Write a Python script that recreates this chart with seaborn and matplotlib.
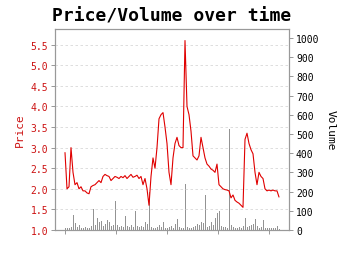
import matplotlib
matplotlib.use("Agg")
import matplotlib.pyplot as plt
import seaborn as sns
import pandas as pd
import numpy as np

# ---- data ----
price = [2.88, 2.0, 2.05, 3.0, 2.4, 2.1, 2.15, 2.0, 2.05, 1.95,
         1.95, 1.9, 1.88, 2.05, 2.08, 2.1, 2.15, 2.2, 2.15, 2.3,
         2.35, 2.32, 2.3, 2.2, 2.25, 2.3, 2.28, 2.25, 2.3, 2.27,
         2.32, 2.25, 2.3, 2.35, 2.28, 2.3, 2.33, 2.25, 2.3, 2.1,
         2.25, 2.0, 1.6, 2.3, 2.75, 2.5, 3.0, 3.7, 3.8, 3.85,
         3.5, 3.1, 2.4, 2.1, 2.75, 3.1, 3.25, 3.05, 3.0, 3.0,
         5.6, 4.0, 3.8, 3.4, 2.8, 2.75, 2.7, 2.8, 3.25, 3.0,
         2.75, 2.6, 2.55, 2.48, 2.45, 2.4, 2.6, 2.1, 2.05, 2.0,
         1.98, 1.97, 1.95, 1.78, 1.85, 1.72, 1.68, 1.65, 1.6, 1.55,
         3.2, 3.35, 3.1, 2.95, 2.85, 2.4, 2.1, 2.4, 2.3, 2.25,
         2.0, 1.95, 1.97, 1.95, 1.97, 1.95, 1.95, 1.8]
volume = [10, 8, 12, 15, 78, 36, 18, 25, 12, 10,
          15, 8, 12, 20, 109, 25, 62, 40, 45, 22,
          30, 52, 40, 20, 28, 153, 25, 15, 20, 18,
          73, 20, 15, 25, 18, 99, 20, 15, 22, 18,
          40, 30, 200, 15, 10, 12, 18, 25, 15, 40,
          12, 10, 15, 20, 12, 30, 57, 15, 10, 12,
          238, 15, 12, 10, 18, 20, 30, 25, 40, 35,
          184, 15, 20, 40, 25, 60, 90, 100, 20, 15,
          18, 12, 526, 25, 15, 12, 10, 15, 12, 20,
          62, 15, 20, 25, 30, 57, 20, 12, 15, 52,
          12, 10, 8, 12, 10, 8, 20, 5]
day = list(range(0, 2 * len(price), 2))
price_ticks = [1.0, 1.5, 2.0, 2.5, 3.0, 3.5, 4.0, 4.5, 5.0, 5.5]
volume_ticks = [0, 100, 200, 300, 400, 500, 600, 700, 800, 900, 1000]
x_ticks = [0, 51, 102, 153, 204]

df = pd.DataFrame({"day": day, "price": price, "volume": volume})

sns.set_theme(style="white")
plt.rcParams['font.family'] = ['DejaVu Sans Mono', 'DejaVu Sans']

fig = plt.figure(figsize=(3.5, 2.55), dpi=100)
ax = fig.add_axes([55 / 350, 24 / 255, 234 / 350, 201 / 255])
ax2 = ax.twinx()

red = "#e00000"
lab_red = "#cc1111"

sns.barplot(data=df, x="day", y="volume", native_scale=True, color="#808080",
            width=0.5, ax=ax2, alpha=0.85, linewidth=0, saturation=1)
sns.lineplot(data=df, x="day", y="price", color=red, linewidth=0.8, ax=ax)

ax.set_zorder(ax2.get_zorder() + 1)
ax.patch.set_visible(False)

ax.set_xlim(-10, 224)
ax.set_ylim(1.0, 5.88)
ax2.set_ylim(0, 1047)

ax.set_yticks(price_ticks)
ax.set_yticklabels([f"{v:.1f}" for v in price_ticks], color=lab_red, fontsize=7)
ax2.set_yticks(volume_ticks)
ax2.set_yticklabels([str(v) for v in volume_ticks], color="black", fontsize=7)
ax.set_xticks(x_ticks)
ax.set_xticklabels([])
ax2.set_xticks(x_ticks)

ax.grid(axis="y", linestyle=(0, (3, 3)), color="#d8d8d8", linewidth=0.6)
ax.grid(axis="x", visible=False)
ax2.grid(False)

for a in (ax, ax2):
    for s in a.spines.values():
        s.set_color("#999999")
        s.set_linewidth(0.8)
ax.tick_params(axis="both", length=3, width=0.6, color="#888888", pad=2, left=True, bottom=True)
ax2.tick_params(axis="y", length=3, width=0.6, color="#888888", pad=2, right=True)

ax.set_xlabel("")
ax.set_ylabel("Price", color=lab_red, fontsize=8, labelpad=4)
ax2.set_ylabel("Volume", color="black", fontsize=8, rotation=270, labelpad=12)
ax.set_title("Price/Volume over time", fontsize=13, fontweight="bold", color="black", pad=6)

fig.savefig("out.png", dpi=100)
